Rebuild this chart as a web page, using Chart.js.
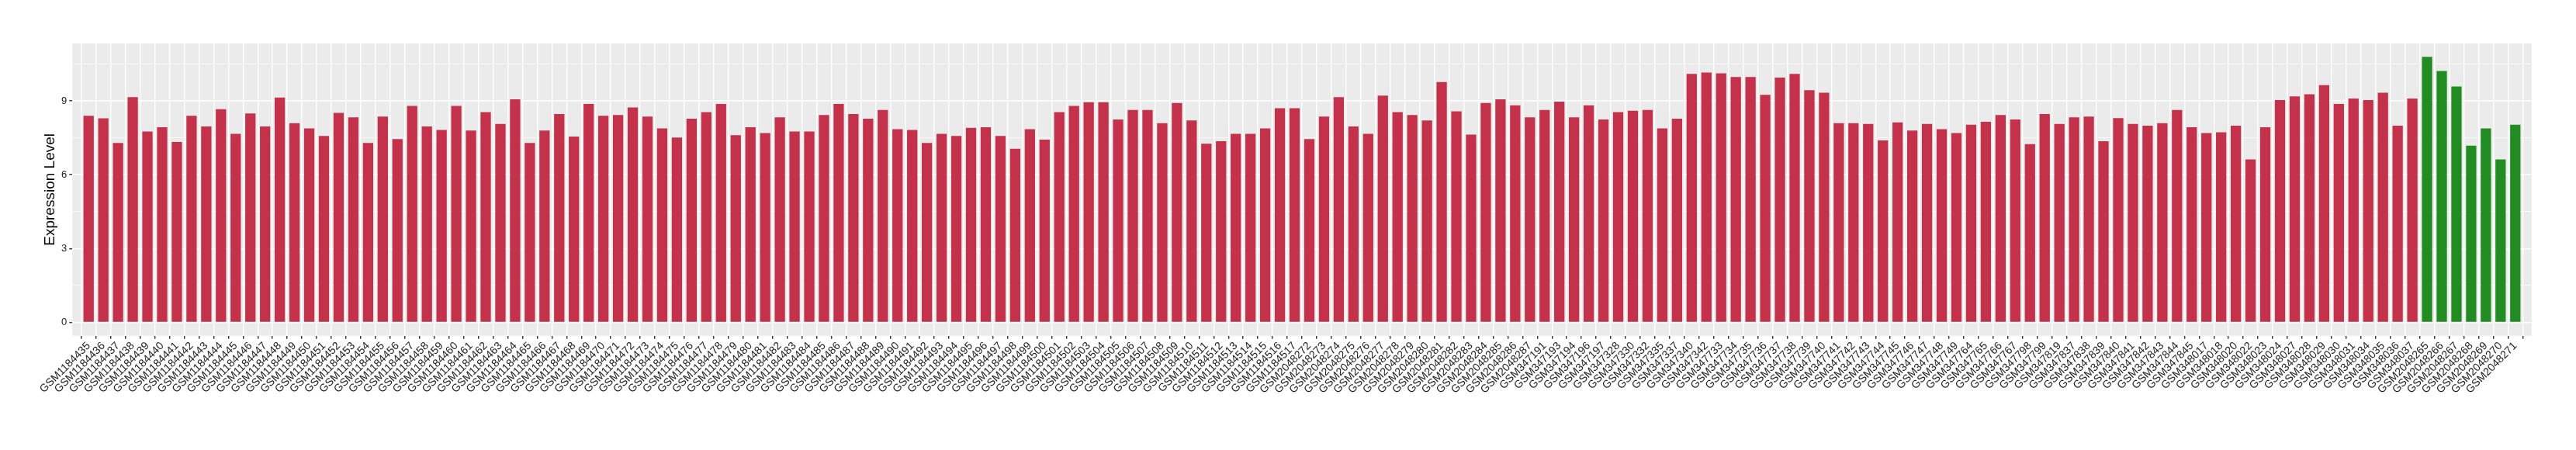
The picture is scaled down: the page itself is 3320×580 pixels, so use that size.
<!DOCTYPE html>
<html>
<head>
<meta charset="utf-8">
<script src="https://cdn.jsdelivr.net/npm/chart.js@4.4.1/dist/chart.umd.min.js"></script>
<style>
  html, body { margin: 0; padding: 0; background: #fff; }
  #wrap { width: 3320px; height: 580px; }
</style>
</head>
<body>
<div id="wrap"><canvas id="expr" width="3320" height="580"></canvas></div>
<script>
// sample ids, left to right
const samples = [
  'GSM1184435','GSM1184436','GSM1184437','GSM1184438','GSM1184439','GSM1184440','GSM1184441','GSM1184442',
  'GSM1184443','GSM1184444','GSM1184445','GSM1184446','GSM1184447','GSM1184448','GSM1184449','GSM1184450',
  'GSM1184451','GSM1184452','GSM1184453','GSM1184454','GSM1184455','GSM1184456','GSM1184457','GSM1184458',
  'GSM1184459','GSM1184460','GSM1184461','GSM1184462','GSM1184463','GSM1184464','GSM1184465','GSM1184466',
  'GSM1184467','GSM1184468','GSM1184469','GSM1184470','GSM1184471','GSM1184472','GSM1184473','GSM1184474',
  'GSM1184475','GSM1184476','GSM1184477','GSM1184478','GSM1184479','GSM1184480','GSM1184481','GSM1184482',
  'GSM1184483','GSM1184484','GSM1184485','GSM1184486','GSM1184487','GSM1184488','GSM1184489','GSM1184490',
  'GSM1184491','GSM1184492','GSM1184493','GSM1184494','GSM1184495','GSM1184496','GSM1184497','GSM1184498',
  'GSM1184499','GSM1184500','GSM1184501','GSM1184502','GSM1184503','GSM1184504','GSM1184505','GSM1184506',
  'GSM1184507','GSM1184508','GSM1184509','GSM1184510','GSM1184511','GSM1184512','GSM1184513','GSM1184514',
  'GSM1184515','GSM1184516','GSM1184517',
  'GSM2048272','GSM2048273','GSM2048274','GSM2048275','GSM2048276','GSM2048277','GSM2048278','GSM2048279',
  'GSM2048280','GSM2048281','GSM2048282','GSM2048283','GSM2048284','GSM2048285','GSM2048286','GSM2048287',
  'GSM347191','GSM347193','GSM347194','GSM347196','GSM347197',
  'GSM347328','GSM347330','GSM347332','GSM347335','GSM347337','GSM347340','GSM347342',
  'GSM347733','GSM347734','GSM347735','GSM347736','GSM347737','GSM347738','GSM347739','GSM347740',
  'GSM347741','GSM347742','GSM347743','GSM347744','GSM347745','GSM347746','GSM347747','GSM347748','GSM347749',
  'GSM347764','GSM347765','GSM347766','GSM347767','GSM347798','GSM347799','GSM347819',
  'GSM347837','GSM347838','GSM347839','GSM347840','GSM347841','GSM347842','GSM347843','GSM347844','GSM347845',
  'GSM348017','GSM348018','GSM348020','GSM348022','GSM348023','GSM348024','GSM348027','GSM348028',
  'GSM348029','GSM348030','GSM348031','GSM348034','GSM348035','GSM348036','GSM348037',
  'GSM2048265','GSM2048266','GSM2048267','GSM2048268','GSM2048269','GSM2048270','GSM2048271'
];

const expression = [
  8.39, 8.29, 7.29, 9.15, 7.75, 7.93, 7.33, 8.39, 7.96, 8.66, 7.66, 8.49,
  7.96, 9.13, 8.09, 7.88, 7.57, 8.51, 8.33, 7.29, 8.36, 7.45, 8.79, 7.96,
  7.82, 8.79, 7.79, 8.54, 8.06, 9.06, 7.29, 7.79, 8.46, 7.55, 8.87, 8.39,
  8.42, 8.73, 8.36, 7.88, 7.51, 8.27, 8.54, 8.87, 7.60, 7.93, 7.69, 8.33,
  7.75, 7.75, 8.42, 8.87, 8.46, 8.27, 8.63, 7.85, 7.82, 7.29, 7.66, 7.57,
  7.90, 7.93, 7.57, 7.05, 7.85, 7.42, 8.54, 8.79, 8.94, 8.94, 8.24, 8.63,
  8.63, 8.09, 8.91, 8.20, 7.26, 7.36, 7.66, 7.66, 7.88, 8.70, 8.70,
  7.45, 8.36, 9.15, 7.96, 7.66, 9.21, 8.54, 8.42, 8.20, 9.76, 8.57, 7.63,
  8.91, 9.06, 8.82, 8.33,
  8.63, 8.97, 8.33, 8.82, 8.24,
  8.54, 8.60, 8.63, 7.88, 8.27, 10.09, 10.15,
  10.12, 9.97, 9.97, 9.24, 9.94, 10.09, 9.43, 9.33,
  8.09, 8.09, 8.06, 7.39, 8.12, 7.79, 8.06, 7.85, 7.69,
  8.03, 8.15, 8.42, 8.24, 7.24, 8.46, 8.06,
  8.33, 8.36, 7.36, 8.30, 8.06, 7.99, 8.09, 8.63, 7.93,
  7.69, 7.72, 7.99, 6.62, 7.93, 9.03, 9.18, 9.27,
  9.64, 8.87, 9.09, 9.03, 9.33, 7.99, 9.09,
  10.79, 10.21, 9.58, 7.18, 7.88, 6.62, 8.03
];

// samples drawn in green
const greenSamples = ['GSM2048265','GSM2048266','GSM2048267','GSM2048268','GSM2048269','GSM2048270','GSM2048271'];

const yTicks = [0, 3, 6, 9];
const yMinor = [1.5, 4.5, 7.5, 10.5];

const RED = '#C3314A';
const GREEN = '#228B22';

const panelBg = {
  id: 'panelBg',
  beforeDraw(chart) {
    const a = chart.chartArea;
    const ctx = chart.ctx;
    ctx.save();
    ctx.fillStyle = '#EBEBEB';
    ctx.fillRect(a.left, a.top, a.right - a.left, a.bottom - a.top);
    ctx.restore();
  }
};

const n = samples.length;

new Chart(document.getElementById('expr'), {
  type: 'bar',
  data: {
    datasets: [{
      label: 'Expression Level',
      data: expression.map((v, i) => ({ x: i, y: v })),
      backgroundColor: samples.map(s => greenSamples.includes(s) ? GREEN : RED),
      borderWidth: 0,
      barPercentage: 0.7,
      categoryPercentage: 1.0
    }]
  },
  options: {
    responsive: false,
    animation: false,
    layout: { padding: { top: 56, right: 57.3, bottom: 0, left: 0 } },
    plugins: { legend: { display: false }, tooltip: { enabled: false } },
    scales: {
      x: {
        type: 'linear',
        min: -0.6,
        max: n - 1 + 0.6,
        afterBuildTicks: s => { s.ticks = samples.map((_, i) => ({ value: i })); },
        afterFit: s => { s.height = 147.3; },
        border: { display: false },
        grid: {
          color: '#FFFFFF',
          lineWidth: 1.4,
          tickLength: 4,
          tickColor: '#333333'
        },
        ticks: {
          autoSkip: false,
          maxRotation: 45,
          minRotation: 45,
          padding: 1,
          color: '#1A1A1A',
          font: { family: "'Liberation Sans', Arial, sans-serif", size: 14 },
          callback: v => samples[v]
        }
      },
      y: {
        min: -0.54,
        max: 11.33,
        afterBuildTicks: s => {
          s.ticks = yTicks.concat(yMinor).sort((a, b) => a - b).map(v => ({ value: v }));
        },
        afterFit: s => { s.width = 93.3; },
        border: { display: false },
        grid: {
          color: '#FFFFFF',
          lineWidth: c => yTicks.includes(c.tick.value) ? 1.4 : 0.7,
          tickLength: 4,
          tickColor: c => yTicks.includes(c.tick.value) ? '#333333' : 'rgba(0,0,0,0)'
        },
        ticks: {
          padding: 3,
          color: '#1A1A1A',
          font: { family: "'Liberation Sans', Arial, sans-serif", size: 13 },
          callback: v => yTicks.includes(v) ? String(v) : ''
        },
        title: {
          display: true,
          text: 'Expression Level',
          color: '#000000',
          font: { family: "'Liberation Sans', Arial, sans-serif", size: 19 },
          padding: { top: 53, bottom: 0 }
        }
      }
    }
  },
  plugins: [panelBg]
});
</script>
</body>
</html>
